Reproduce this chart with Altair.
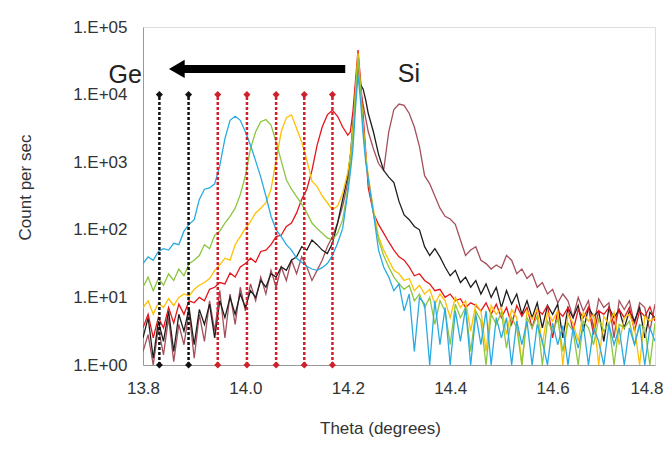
import altair as alt
import pandas as pd

# ---- sampling grid (degrees) ----
theta = [
    13.80, 13.81, 13.82, 13.83, 13.84, 13.85, 13.86, 13.87, 13.88, 13.89,
    13.90, 13.91, 13.92, 13.93, 13.94, 13.95, 13.96, 13.97, 13.98, 13.99,
    14.00, 14.01, 14.02, 14.03, 14.04, 14.05, 14.06, 14.07, 14.08, 14.09,
    14.10, 14.11, 14.12, 14.13, 14.14, 14.15, 14.16, 14.17, 14.18, 14.19,
    14.20, 14.205, 14.21, 14.215, 14.22, 14.225, 14.23, 14.235, 14.24,
    14.25, 14.26, 14.27, 14.28, 14.29, 14.30, 14.31, 14.32, 14.33, 14.34,
    14.35, 14.36, 14.37, 14.38, 14.39, 14.40, 14.41, 14.42, 14.43, 14.44,
    14.45, 14.46, 14.47, 14.48, 14.49, 14.50, 14.51, 14.52, 14.53, 14.54,
    14.55, 14.56, 14.57, 14.58, 14.59, 14.60, 14.61, 14.62, 14.63, 14.64,
    14.65, 14.66, 14.67, 14.68, 14.69, 14.70, 14.71, 14.72, 14.73, 14.74,
    14.75, 14.76, 14.77, 14.78, 14.79, 14.80,
]

# ---- log10(count per sec) ----
cyan_log = [
    1.50, 1.60, 1.55, 1.68, 1.72, 1.70, 1.80, 1.78, 1.98, 2.08,
    2.15, 2.45, 2.60, 2.62, 2.68, 2.95, 3.35, 3.62, 3.68, 3.62,
    3.45, 3.25, 3.02, 2.78, 2.50, 2.20, 2.00, 1.90, 1.78, 1.70,
    1.58, 1.52, 1.46, 1.42, 1.40, 1.44, 1.50, 1.62, 1.80, 2.02,
    2.55, 2.85, 3.20, 3.80, 4.29, 3.90, 3.40, 3.00, 2.75,
    2.25, 1.70, 1.45, 1.30, 1.10, 1.20, 0.80, 1.05, 0.20, 1.00,
    0.90, 0.00, 0.95, 0.30, 0.85, 0.00, 0.80, 0.35, 0.85, 0.00,
    0.75, 0.30, 0.80, 0.00, 0.70, 0.40, 0.70, 0.00, 0.65, 0.30,
    0.65, 0.00, 0.60, 0.35, 0.00, 0.62, 0.30, 0.58, 0.00, 0.55,
    0.25, 0.60, 0.00, 0.55, 0.35, 0.00, 0.60, 0.30, 0.55, 0.00,
    0.55, 0.30, 0.60, 0.00, 0.55, 0.35,
]
green_log = [
    1.15, 1.30, 1.10, 1.28, 1.18, 1.35, 1.25, 1.42, 1.32, 1.50,
    1.55, 1.62, 1.78, 1.72, 1.92, 1.98, 2.10, 2.20, 2.32, 2.52,
    2.80, 3.20, 3.45, 3.60, 3.63, 3.55, 3.30, 3.02, 2.74, 2.60,
    2.49, 2.38, 2.25, 2.10, 2.02, 1.95, 1.88, 1.85, 1.95, 2.15,
    2.60, 2.95, 3.40, 4.00, 4.55, 4.05, 3.50, 3.05, 2.75,
    2.25, 1.85, 1.62, 1.45, 1.30, 1.20, 1.12, 1.18, 0.95, 1.05,
    0.85, 1.00, 0.60, 0.95, 0.80, 0.30, 0.90, 0.70, 0.85, 0.20,
    0.80, 0.65, 0.00, 0.75, 0.60, 0.78, 0.25, 0.70, 0.55, 0.00,
    0.70, 0.55, 0.72, 0.00, 0.65, 0.50, 0.68, 0.20, 0.62, 0.50,
    0.00, 0.65, 0.55, 0.30, 0.68, 0.50, 0.62, 0.00, 0.60, 0.55,
    0.65, 0.30, 0.60, 0.55, 0.00, 0.62,
]
yellow_log = [
    0.85, 0.95, 0.75, 0.92, 0.85, 0.98, 0.88, 1.00, 1.05, 1.02,
    1.12, 1.18, 1.22, 1.28, 1.40, 1.48, 1.58, 1.55, 1.78, 1.90,
    2.02, 2.12, 2.25, 2.32, 2.40, 2.60, 3.03, 3.45, 3.66, 3.70,
    3.50, 3.30, 3.03, 2.72, 2.64, 2.50, 2.40, 2.30, 2.35, 2.54,
    2.85, 3.10, 3.50, 4.05, 4.62, 4.10, 3.55, 3.10, 2.80,
    2.30, 1.90, 1.70, 1.55, 1.40, 1.35, 1.25, 1.28, 1.10, 1.18,
    1.05, 1.12, 0.90, 1.05, 0.95, 0.70, 1.00, 0.85, 0.95, 0.50,
    0.90, 0.80, 0.20, 0.88, 0.75, 0.85, 0.45, 0.82, 0.70, 0.00,
    0.80, 0.68, 0.82, 0.30, 0.78, 0.65, 0.80, 0.00, 0.75, 0.62,
    0.35, 0.78, 0.65, 0.75, 0.00, 0.72, 0.60, 0.78, 0.30, 0.70,
    0.75, 0.55, 0.00, 0.72, 0.65, 0.70,
]
red_log = [
    0.55, 0.75, 0.40, 0.70, 0.55, 0.85, 0.62, 0.90, 0.75, 0.95,
    0.92, 1.00, 0.95, 1.12, 1.15, 1.22, 1.20, 1.36, 1.30, 1.45,
    1.50, 1.58, 1.52, 1.68, 1.70, 1.78, 1.90, 1.92, 2.05, 2.10,
    2.25, 2.45, 2.60, 2.88, 3.25, 3.52, 3.70, 3.77, 3.68, 3.52,
    3.40, 3.45, 3.75, 4.20, 4.66, 4.20, 3.70, 3.15, 2.62,
    2.25, 2.08, 1.95, 1.82, 1.70, 1.60, 1.55, 1.45, 1.32, 1.35,
    1.25, 1.20, 1.10, 1.12, 1.00, 1.05, 0.95, 0.98, 0.85, 0.92,
    0.88, 0.80, 0.92, 0.75, 0.90, 0.70, 0.85, 0.60, 0.88, 0.72,
    0.85, 0.55, 0.82, 0.75, 0.88, 0.40, 0.80, 0.72, 0.85, 0.50,
    0.82, 0.70, 0.85, 0.45, 0.80, 0.75, 0.85, 0.60, 0.82, 0.70,
    0.85, 0.50, 0.80, 0.72, 0.86, 0.65,
]
black_log = [
    0.40, 0.70, 0.10, 0.65, 0.35, 0.80, 0.20, 0.75, 0.50, 0.85,
    0.30, 0.82, 0.60, 0.90, 0.40, 0.95, 0.70, 1.00, 0.75, 1.05,
    0.85, 1.10, 1.00, 1.25, 1.15, 1.35, 1.30, 1.45, 1.40, 1.55,
    1.60, 1.75, 1.70, 1.85, 1.78, 1.70, 1.65, 1.80, 2.10, 2.45,
    2.80, 3.10, 3.55, 4.10, 4.50, 4.15, 4.08, 3.92, 3.72,
    3.45, 3.12, 2.88, 2.78, 2.70, 2.42, 2.22, 2.15, 2.05, 2.00,
    1.75, 1.62, 1.72, 1.60, 1.45, 1.32, 1.40, 1.22, 1.30, 1.15,
    1.25, 1.05, 1.20, 1.00, 1.15, 0.85, 1.10, 0.90, 1.05, 0.75,
    0.95, 0.70, 0.92, 0.55, 0.88, 0.75, 0.90, 0.40, 0.85, 0.70,
    0.88, 0.50, 0.85, 0.72, 0.80, 0.35, 0.85, 0.70, 0.82, 0.55,
    0.80, 0.65, 0.85, 0.40, 0.78, 0.70,
]
brown_log = [
    0.20, 0.45, 0.00, 0.55, 0.15, 0.70, 0.05, 0.60, 0.30, 0.80,
    0.10, 0.75, 0.35, 0.95, 0.50, 1.10, 0.40, 1.05, 0.60, 1.15,
    0.80, 1.20, 0.95, 1.30, 1.05, 1.40, 1.15, 1.45, 1.25, 1.55,
    1.35, 1.60, 1.45, 1.25, 1.40, 1.55, 1.75, 1.90, 2.10, 2.35,
    2.70, 3.00, 3.40, 3.95, 4.45, 4.05, 3.85, 3.65, 3.45,
    3.20, 2.98, 2.88, 3.45, 3.78, 3.86, 3.84, 3.72, 3.52, 3.23,
    2.80, 2.68, 2.50, 2.32, 2.20, 2.16, 2.08, 1.85, 1.62, 1.70,
    1.75, 1.55, 1.50, 1.42, 1.48, 1.43, 1.62, 1.55, 1.35, 1.42,
    1.28, 1.35, 1.15, 1.22, 1.05, 1.12, 0.92, 1.05, 0.95, 0.70,
    1.00, 0.80, 0.95, 0.55, 0.98, 0.85, 0.92, 0.40, 0.95, 0.82,
    0.95, 0.60, 0.92, 0.85, 0.50, 0.90,
]

series_names = ["brown", "black", "red", "yellow", "green", "cyan"]
series_colors = ["#a4505c", "#1e1e1e", "#e3161c", "#ffc000", "#8cc63f", "#29abe2"]
series_values = [brown_log, black_log, red_log, yellow_log, green_log, cyan_log]

# guide lines (dotted) positions
guide_theta = [13.832, 13.889, 13.946, 14.003, 14.060, 14.115, 14.170]
guide_colors = ["#111111", "#111111", "#d0202c", "#d0202c", "#d0202c", "#d0202c", "#d0202c"]
guide_low, guide_high = 1, 10000

# arrow (Si -> Ge)
arrow_from, arrow_to, arrow_head, arrow_level = 14.195, 13.872, 13.866, 10 ** 4.38

# annotations
label_text = ["Ge", "Si"]
label_theta = [13.798, 14.3195]
label_count = [10 ** 4.29, 10 ** 4.305]

x_ticks = [13.8, 14.0, 14.2, 14.4, 14.6, 14.8]
y_ticks = [1, 10, 100, 1000, 10000, 100000]

rows = []
for name, vals in zip(series_names, series_values):
    assert len(vals) == len(theta), name
    for t, v in zip(theta, vals):
        rows.append({"theta": t, "count": 10 ** v, "series": name})
df = pd.DataFrame(rows)

guides = pd.DataFrame({"theta": guide_theta, "lo": guide_low, "hi": guide_high, "color": guide_colors})
ends = pd.concat([
    pd.DataFrame({"theta": guide_theta, "y": guide_low, "color": guide_colors}),
    pd.DataFrame({"theta": guide_theta, "y": guide_high, "color": guide_colors}),
])
arrow = pd.DataFrame({"x1": [arrow_from], "x2": [arrow_to], "hx": [arrow_head], "y": [arrow_level]})
labels = pd.DataFrame({"theta": label_theta, "y": label_count, "text": label_text})

FONT = "Liberation Sans"
xs = alt.Scale(domain=[13.8, 14.8], nice=False, zero=False)
ys = alt.Scale(type="log", domain=[1, 100000], nice=False)

x_axis = alt.Axis(
    values=x_ticks, format=".1f", title="Theta (degrees)", grid=False, ticks=False, tickSize=0,
    labelFlush=False, labelPadding=15, labelFontSize=17, labelColor="#333333", labelFont=FONT,
    labelAlign={"condition": {"test": "datum.value >= 14.79", "value": "right"}, "value": "center"},
    labelOffset={"condition": {"test": "datum.value >= 14.79", "value": 8}, "value": 0},
    titleFontSize=17, titleFontWeight="normal", titleColor="#333333", titleFont=FONT,
    titleX=237, titleY=63, titleBaseline="middle", domainColor="#999999",
)
y_axis = alt.Axis(
    values=y_ticks, labelExpr="'1.E+0' + round(log(datum.value) / LN10)", title="Count per sec",
    grid=False, ticks=False, tickSize=0, labelFlush=False, labelPadding=16, labelFontSize=17,
    labelColor="#333333", labelFont=FONT, titleFontSize=17, titleFontWeight="normal",
    titleColor="#333333", titleFont=FONT, titleX=-118, titleY=160, titleBaseline="middle",
    titleAlign="center", domainColor="#999999",
)

X = alt.X("theta:Q", scale=xs, axis=x_axis)
Y = alt.Y("count:Q", scale=ys, axis=y_axis)

layers = []
for name, color in zip(series_names, series_colors):
    layers.append(
        alt.Chart(df).transform_filter(alt.datum.series == name)
        .mark_line(color=color, strokeWidth=1.3, clip=True)
        .encode(x=X, y=Y, order="theta:Q")
    )

guide_rules = alt.Chart(guides).mark_rule(strokeDash=[3, 2], strokeWidth=2.5).encode(
    x=alt.X("theta:Q", scale=xs, axis=x_axis),
    y=alt.Y("lo:Q", scale=ys, axis=y_axis),
    y2="hi:Q",
    color=alt.Color("color:N", scale=None),
)
guide_ends = alt.Chart(ends).mark_point(shape="diamond", filled=True, size=50, opacity=1).encode(
    x=alt.X("theta:Q", scale=xs, axis=x_axis),
    y=alt.Y("y:Q", scale=ys, axis=y_axis),
    color=alt.Color("color:N", scale=None),
)
arrow_shaft = alt.Chart(arrow).mark_rule(strokeWidth=8, color="#000000").encode(
    x=alt.X("x1:Q", scale=xs, axis=x_axis), x2="x2:Q", y=alt.Y("y:Q", scale=ys, axis=y_axis),
)
arrow_tip = alt.Chart(arrow).mark_point(shape="triangle-left", filled=True, size=330, opacity=1, color="#000000").encode(
    x=alt.X("hx:Q", scale=xs, axis=x_axis), y=alt.Y("y:Q", scale=ys, axis=y_axis),
)
ge_text = alt.Chart(labels[labels.text == "Ge"]).mark_text(fontSize=25, font=FONT, align="right", baseline="middle", color="#222222").encode(
    x=alt.X("theta:Q", scale=xs, axis=x_axis), y=alt.Y("y:Q", scale=ys, axis=y_axis), text="text:N",
)
si_text = alt.Chart(labels[labels.text == "Si"]).mark_text(fontSize=25, font=FONT, align="center", baseline="middle", color="#222222").encode(
    x=alt.X("theta:Q", scale=xs, axis=x_axis), y=alt.Y("y:Q", scale=ys, axis=y_axis), text="text:N",
)

chart = alt.layer(*layers, guide_rules, guide_ends, arrow_shaft, arrow_tip, ge_text, si_text).properties(
    width=512, height=338,
    autosize=alt.AutoSizeParams(type="none"),
    padding={"left": 135, "top": 19, "right": 9, "bottom": 75},
).configure_view(stroke="#cccccc", strokeWidth=1).configure(font=FONT, background="white")

chart.save("out.html", embed_options={"renderer": "svg", "actions": False})
